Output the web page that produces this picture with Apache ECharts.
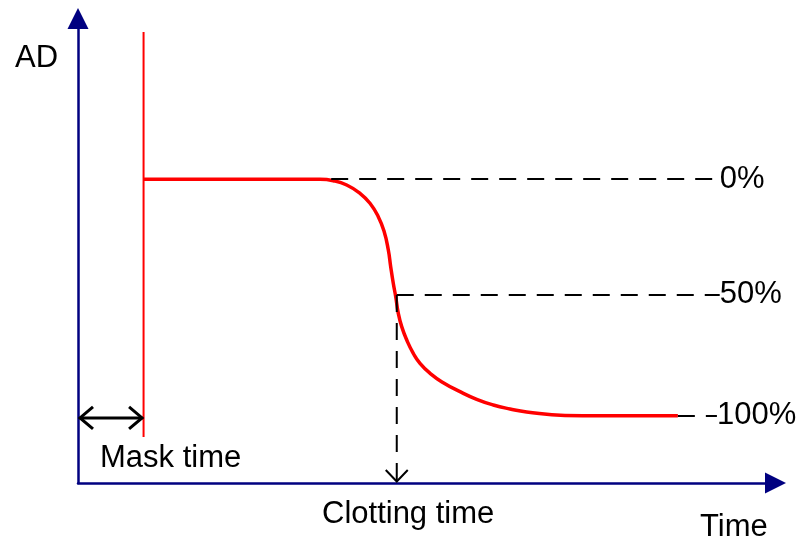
<!DOCTYPE html>
<html>
<head>
<meta charset="utf-8">
<style>
  html, body { margin: 0; padding: 0; background: #fff; }
  #chart { width: 798px; height: 542px; }
</style>
<script src="https://cdn.jsdelivr.net/npm/echarts@6/dist/echarts.min.js"></script>
</head>
<body>
<div id="chart"></div>
<script>
// Optical density (AD) trace of a clotting measurement over time
const maskTime = 9.4;          // end of the mask period
const clotTime = 45.7;         // time at which the signal crosses the 50% level
const maskLineAD = [97.1, 9.9]; // vertical extent of the mask marker

// Red absorbance curve
const curveTime = [9.4, 34.70, 36.60, 38.52, 40.43, 41.86, 43.05, 43.87, 44.49, 44.83, 45.20, 45.55, 45.92, 46.41, 47.13, 48.07, 49.03, 50.47, 52.37, 54.77, 57.16, 59.54, 61.94, 64.33, 69.82, 74.84, 86.0];
const curveAD   = [65.4, 65.38, 65.08, 64.15, 62.37, 60.22, 57.33, 54.25, 50.16, 46.57, 42.99, 40.11, 36.53, 33.66, 30.79, 27.92, 25.77, 23.62, 21.59, 19.66, 18.02, 16.79, 15.93, 15.29, 14.55, 14.5, 14.5];

// Reference levels (dashed) with their labels
const levelNames = ['0%', '50%', '100%'];
const levelAD    = [65.4, 40.5, 14.5];
const levelStart = [36.3, clotTime, 86.0];
const levelEnd   = [91.3, 92.0, 91.6];
const labelGap   = [5, 0, 0];

const maskArrowAD = 14.0;

const FONT = "'Liberation Sans', Arial, sans-serif";
const AXIS_COLOR = '#000080';

const chart = echarts.init(document.getElementById('chart'), null, { renderer: 'canvas' });

const curveData = curveTime.map((t, i) => [t, curveAD[i]]);
const maskLineData = maskLineAD.map(v => [maskTime, v]);

const levelLines = levelNames.map((name, i) => [
  { coord: [levelStart[i], levelAD[i]], name: name, label: { distance: labelGap[i] } },
  { coord: [levelEnd[i], levelAD[i]] }
]);

function axisBase() {
  return {
    type: 'value',
    min: 0,
    max: 100,
    axisLine: {
      show: true,
      onZero: false,
      symbol: ['none', 'triangle'],
      symbolSize: [21, 21],
      lineStyle: { color: AXIS_COLOR, width: 2.5 }
    },
    axisTick: { show: false },
    axisLabel: { show: false },
    splitLine: { show: false }
  };
}

// Arrow annotations: mask-time double arrow and clotting-time drop line
function renderArrows(params, api) {
  const black = '#000';
  const l = api.coord([0, maskArrowAD]);
  const r = api.coord([maskTime, maskArrowAD]);
  const top = api.coord([clotTime, levelAD[1]]);
  const bot = api.coord([clotTime, 0]);
  const hx = 13, hy = 11;
  return {
    type: 'group',
    children: [
      { type: 'line', shape: { x1: l[0] + 1.5, y1: l[1], x2: r[0] - 1, y2: r[1] },
        style: { stroke: black, lineWidth: 3 } },
      { type: 'polyline', shape: { points: [[l[0] + 2 + hx, l[1] - hy], [l[0] + 2, l[1]], [l[0] + 2 + hx, l[1] + hy]] },
        style: { stroke: black, lineWidth: 3, fill: null } },
      { type: 'polyline', shape: { points: [[r[0] - 1.5 - hx, r[1] - hy], [r[0] - 1.5, r[1]], [r[0] - 1.5 - hx, r[1] + hy]] },
        style: { stroke: black, lineWidth: 3, fill: null } },
      { type: 'line', shape: { x1: top[0], y1: top[1], x2: bot[0], y2: bot[1] - 1 },
        style: { stroke: black, lineWidth: 2, lineDash: [17, 11] } },
      { type: 'polyline', shape: { points: [[bot[0] - 11, bot[1] - 13], [bot[0], bot[1] - 1.5], [bot[0] + 11, bot[1] - 13]] },
        style: { stroke: black, lineWidth: 2, fill: null } }
    ]
  };
}

const textStyle = (text, x, y) => ({
  type: 'text',
  x: x,
  y: y,
  style: { text: text, font: '31px ' + FONT, fill: '#000', textAlign: 'left', textVerticalAlign: 'middle' },
  silent: true
});

chart.setOption({
  animation: false,
  backgroundColor: '#fff',
  grid: { left: 78, right: 22.5, top: 18.5, bottom: 59, containLabel: false },
  xAxis: axisBase(),
  yAxis: axisBase(),
  series: [
    {
      type: 'line',
      data: maskLineData,
      symbol: 'none',
      lineStyle: { color: '#ff0000', width: 2 },
      z: 2
    },
    {
      type: 'line',
      data: curveData,
      symbol: 'none',
      smooth: 0.5,
      lineStyle: { color: '#ff0000', width: 3.5 },
      z: 2
    },
    {
      type: 'line',
      data: [],
      z: 3,
      markLine: {
        silent: true,
        symbol: ['none', 'none'],
        animation: false,
        lineStyle: { color: '#000', width: 2, type: [17, 11] },
        label: {
          show: true,
          position: 'end',
          distance: 4,
          formatter: p => p.name,
          color: '#000',
          fontSize: 31,
          fontFamily: FONT
        },
        emphasis: { disabled: true },
        data: levelLines
      }
    },
    {
      type: 'custom',
      renderItem: renderArrows,
      data: [[clotTime, levelAD[1]]],
      silent: true,
      z: 4
    }
  ],
  graphic: [
    textStyle('AD', 15, 58),
    textStyle('Mask time', 100, 458),
    textStyle('Clotting time', 322, 514),
    textStyle('Time', 700, 527)
  ]
});
</script>
</body>
</html>
